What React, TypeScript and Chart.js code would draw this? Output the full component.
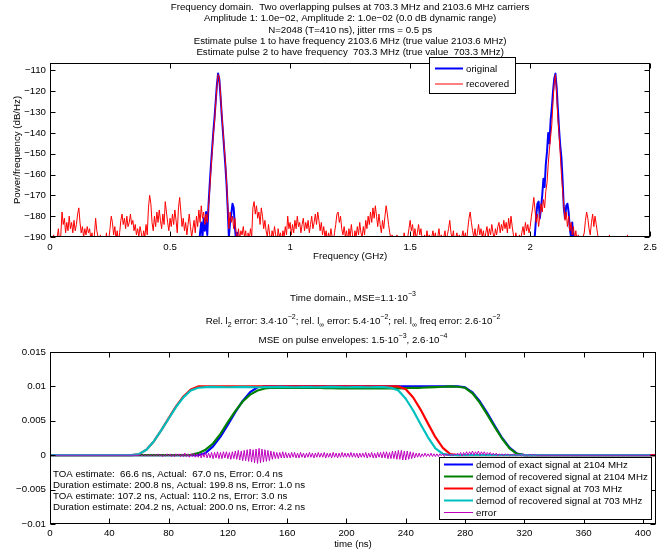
import React, { useEffect, useRef } from 'react';
import { Chart, registerables } from 'chart.js';
Chart.register(...registerables);

const FONT = "'Liberation Sans', Arial, Helvetica, sans-serif";
const FS = 9.7;

// ---------------- Frequency domain data ----------------
const freqStep = 0.005; // GHz between PSD samples
const recoveredPSD = [
  -195,-192,-196,-189,-194,-198,-190,-186,-193,-189,-178,-184,-181,-188,-183,-187,-180,-186,-183,-188,
  -182,-187,-184,-179,-176,-183,-188,-185,-190,-186,-189,-185,-188,-186,-191,-188,-194,-189,-181,-187,
  -190,-196,-189,-193,-199,-190,-194,-188,-195,-191,-186,-180,-183,-189,-185,-191,-187,-193,-188,-182,
  -179,-184,-181,-186,-180,-185,-183,-179,-184,-182,-187,-184,-189,-186,-190,-185,-188,-192,-187,-190,
  -184,-189,-176,-170,-174,-183,-187,-180,-185,-178,-183,-177,-182,-186,-179,-184,-173,-178,-183,-187,
  -181,-185,-179,-184,-177,-182,-188,-176,-171,-178,-185,-181,-187,-183,-189,-184,-179,-185,-190,-186,
  -182,-188,-180,-185,-177,-183,-175,-181,-178,-184,-179,-183,-176,-168,-158,-150,-141,-135,-126,-118,
  -112,-113,-121,-130,-138,-146,-153,-163,-174,-186,-178,-183,-180,-186,-181,-188,-192,-186,-191,-187,
  -189,-185,-190,-187,-194,-188,-191,-186,-190,-176,-173,-179,-175,-181,-178,-184,-176,-180,-186,-182,
  -187,-190,-184,-189,-192,-187,-190,-185,-189,-194,-186,-190,-188,-193,-187,-190,-185,-189,-180,-186,
  -183,-189,-184,-188,-182,-186,-180,-185,-183,-188,-184,-181,-187,-183,-186,-182,-188,-184,-180,-186,
  -183,-179,-184,-178,-182,-187,-183,-189,-185,-190,-187,-192,-188,-191,-186,-190,-193,-188,-184,-179,
  -178,-183,-180,-186,-189,-185,-190,-187,-192,-186,-190,-184,-189,-193,-187,-190,-185,-189,-183,-188,
  -190,-185,-189,-182,-186,-180,-184,-178,-183,-176,-181,-175,-180,-185,-179,-184,-188,-182,-186,-180,
  -175,-179,-184,-188,-191,-189,-194,-190,-192,-189,-193,-190,-195,-190,-192,-188,-191,-196,-190,-186,
  -182,-187,-184,-190,-186,-191,-188,-184,-189,-186,-191,-194,-189,-192,-187,-191,-189,-195,-190,-187,
  -191,-188,-193,-190,-186,-191,-189,-194,-190,-187,-192,-189,-186,-182,-188,-191,-187,-193,-190,-188,
  -192,-189,-194,-190,-187,-191,-188,-193,-186,-181,-178,-183,-187,-190,-186,-191,-188,-184,-189,-186,
  -190,-187,-192,-188,-185,-190,-186,-189,-184,-188,-191,-186,-189,-185,-183,-188,-184,-187,-182,-186,
  -183,-188,-181,-186,-180,-185,-189,-192,-188,-191,-194,-189,-192,-188,-185,-189,-183,-187,-184,-188,
  -185,-180,-176,-171,-177,-183,-179,-185,-180,-174,-178,-172,-176,-168,-164,-155,-148,-142,-136,-125,
  -116,-112,-121,-133,-140,-150,-160,-168,-175,-182,-178,-185,-180,-187,-183,-189,-185,-191,-187,-192,
  -189,-194,-190,-195,-190,-188,-182,-178,-181,-186,-189,-183,-179,-185,-180,-184,-188,-192,-200,-200,
  -200,-200,-200,-200,-200,-193,-189,-194,-200,-200,-200,-200,-200,-200,-200,-200,-200,-200,-200,-200,
  -200,-189,-195,-200,-200,-200,-200,-200,-200,-200,-200,-200,-200,-200,-200,-200,-200,-200,-200,-200,
  -200,
];
const peak1Start = 0.6;
const originalPeak1 = [
  -200,-200,-196,-192,-195,-188,-183,-190,-181,-187,-178,-189,-175,-165,-156,-148,-140,-133,-125,-117,
  -111.5,-114,-122,-131,-139,-147,-155,-164,-176,-190,-183,-179,-174,-176,-185,-192,-188,-196,-200,-200,
  -200,
];
const peak2Start = 2.0;
const originalPeak2 = [
  -200,-198,-193,-195,-188,-180,-174,-173,-181,-176,-170,-162,-166,-155,-149,-140,-145,-134,-128,-120,
  -114,-111.5,-118,-128,-138,-146,-152,-163,-176,-181,-175,-174,-178,-186,-190,-183,-192,-196,-200,-200,
  -200,
];
const freqTicks = [0, 0.5, 1, 1.5, 2, 2.5];
const freqTickLabels = ['0', '0.5', '1', '1.5', '2', '2.5'];
const psdTicks = [-190, -180, -170, -160, -150, -140, -130, -120, -110];
const psdTickLabels = ['\u2212190', '\u2212180', '\u2212170', '\u2212160', '\u2212150', '\u2212140', '\u2212130', '\u2212120', '\u2212110'];
const freqTitleLines = [
  'Frequency domain.  Two overlapping pulses at 703.3 MHz and 2103.6 MHz carriers',
  'Amplitude 1: 1.0e\u221202, Amplitude 2: 1.0e\u221202 (0.0 dB dynamic range)',
  'N=2048 (T=410 ns), jitter rms = 0.5 ps',
  'Estimate pulse 1 to have frequency 2103.6 MHz (true value 2103.6 MHz)',
  'Estimate pulse 2 to have frequency  703.3 MHz (true value  703.3 MHz)',
];
const freqLegend = ['original', 'recovered'];

// ---------------- Time domain data ----------------
const timeStep = 5; // ns
const exact2104 = [
  0,0,0,0,0,0,0,0,0,0,0,0,0,0,0,0,0,0,0,0,0,
  0.00033,0.00128,0.0027,0.00445,0.00626,0.0079,0.00917,0.00988,
  0.01,0.01,0.01,0.01,0.01,0.01,0.01,0.01,0.01,0.01,0.01,0.01,0.01,0.01,0.01,0.01,0.01,0.01,0.01,0.01,0.01,0.01,0.01,0.01,0.01,0.01,0.01,
  0.00987,0.00913,0.00781,0.00611,0.00426,0.0025,0.00109,0.00022,
  0,0,0,0,0,0,0,0,0,0,0,0,0,0,0,0,0,0,0,
];
const recovered2104 = [
  0,0,0,0,0,0,0,0,0,0,0,0,0,0,0,0,0,0,0,
  0.00005,0.0003,0.0008,0.0017,0.0031,0.0048,0.0064,0.0078,0.0088,0.0094,0.0097,
  0.0098,0.0098,0.0098,0.0098,0.0098,0.0098,0.0098,0.00975,0.00975,0.0097,0.0097,0.0097,0.0097,0.0097,0.0097,0.0097,0.0097,0.00972,0.00975,0.0098,0.0098,0.00985,0.0099,0.00995,0.01,0.00995,
  0.0098,0.009,0.0076,0.0059,0.0041,0.0024,0.001,0.0002,
  0,0,0,0,0,0,0,0,0,0,0,0,0,0,0,0,0,0,0,
];
const exact703 = [
  0,0,0,0,0,0,0,0,0,0,0,0,
  0.00011,0.0008,0.002,0.0036,0.00536,0.0071,0.00854,0.00955,0.00999,
  0.01,0.01,0.01,0.01,0.01,0.01,0.01,0.01,0.01,0.01,0.01,0.01,0.01,0.01,0.01,0.01,0.01,0.01,0.01,0.01,0.01,0.01,0.01,0.01,0.01,0.01,0.01,
  0.00958,0.00838,0.00663,0.00459,0.00262,0.00105,0.00017,
  0,0,0,0,0,0,0,0,0,0,0,0,0,0,0,0,0,0,0,0,0,0,0,0,0,0,0,0,
];
const recovered703 = [
  0,0,0,0,0,0,0,0,0,0,0,0,
  0.00015,0.0008,0.002,0.0036,0.0053,0.007,0.0084,0.0094,0.0098,
  0.0099,0.00992,0.0099,0.00988,0.0099,0.00992,0.0099,0.00988,0.0099,0.0099,0.00992,0.0099,0.00988,0.0099,0.0099,0.00988,0.0099,0.00992,0.0099,0.00988,0.0099,0.0099,0.00988,0.0099,0.0099,0.0098,
  0.0094,0.0082,0.0065,0.0045,0.0026,0.001,0.0002,
  0,0,0,0,0,0,0,0,0,0,0,0,0,0,0,0,0,0,0,0,0,0,0,0,0,0,0,0,
];
const errStart = 60; // ns
const errStep = 1; // ns
const errorE4 = [ // error in units of 1e-4
  0,1,-1,1,-1,1,-1,1,-1,1,-1,1,-1,2,-1,1,-2,1,-1,2,
  -1,2,-2,1,-2,2,-1,2,-2,2,-2,3,-2,2,-3,2,-2,3,-3,2,
  -3,3,-4,3,-3,4,-4,3,-4,4,-5,4,-4,5,-5,4,-5,5,-4,5,
  -5,4,-6,5,-5,6,-6,7,-7,6,-8,7,-8,8,-9,9,-10,8,-11,9,
  -12,10,-11,9,-10,8,-9,7,-8,6,-6,5,-5,4,-5,4,-4,5,-4,4,
  -4,3,-4,4,-3,4,-4,3,-4,4,-3,3,-4,3,-3,4,-3,3,-4,3,
  -3,4,-3,3,-3,4,-4,3,-3,3,-4,4,-3,3,-4,3,-3,4,-3,3,
  -3,3,-3,4,-3,3,-3,3,-4,3,-3,3,-3,4,-4,3,-3,4,-4,3,
  -4,4,-3,4,-4,5,-4,5,-5,4,-5,6,-5,6,-6,7,-6,7,-7,6,
  -7,6,-6,5,-5,4,-4,3,-3,3,-3,2,-2,3,-2,2,-2,3,-2,2,
  -2,2,-2,2,-1,2,-2,2,-1,2,-1,2,-1,2,0,3,0,4,-1,4,
  0,5,0,5,1,6,0,5,1,6,0,5,1,5,0,4,1,4,0,3,
  0,3,-1,2,0,2,-1,2,0,2,-1,1,0,2,-1,1,0,1,-1,1,
  0,1,-1,1,0,1,0,1,0,0,0,
];
const timeMax = 408.8;
const timeTicks = [0, 40, 80, 120, 160, 200, 240, 280, 320, 360, 400];
const timeTickLabels = ['0', '40', '80', '120', '160', '200', '240', '280', '320', '360', '400'];
const ampTicks = [-0.01, -0.005, 0, 0.005, 0.01, 0.015];
const ampTickLabels = ['\u22120.01', '\u22120.005', '0', '0.005', '0.01', '0.015'];
const timeLegend = [
  'demod of exact signal at 2104 MHz',
  'demod of recovered signal at 2104 MHz',
  'demod of exact signal at 703 MHz',
  'demod of recovered signal at 703 MHz',
  'error',
];
const estimateLines = [
  'TOA estimate:  66.6 ns, Actual:  67.0 ns, Error: 0.4 ns',
  'Duration estimate: 200.8 ns, Actual: 199.8 ns, Error: 1.0 ns',
  'TOA estimate: 107.2 ns, Actual: 110.2 ns, Error: 3.0 ns',
  'Duration estimate: 204.2 ns, Actual: 200.0 ns, Error: 4.2 ns',
];

const C_BLUE = '#0000ff';
const C_GREEN = '#008000';
const C_RED = '#ff0000';
const C_CYAN = '#00bfbf';
const C_MAG = '#bf00bf';

type Seg = { t: string; k?: 'sup' | 'sub' };

function drawRich(ctx: CanvasRenderingContext2D, segs: Seg[], cx: number, y: number) {
  const fontFor = (s: Seg) => (s.k ? `7px ${FONT}` : `${FS}px ${FONT}`);
  let w = 0;
  for (const s of segs) { ctx.font = fontFor(s); w += ctx.measureText(s.t).width; }
  let x = cx - w / 2;
  ctx.textAlign = 'left';
  ctx.textBaseline = 'middle';
  for (const s of segs) {
    ctx.font = fontFor(s);
    const dy = s.k === 'sup' ? -4 : s.k === 'sub' ? 4 : 0;
    ctx.fillText(s.t, x, y + dy);
    x += ctx.measureText(s.t).width;
  }
}

const framePlugin = {
  id: 'matlabFrame',
  afterDatasetsDraw(chart: any) {
    const { ctx, chartArea: a, scales } = chart;
    ctx.save();
    ctx.strokeStyle = '#000';
    ctx.lineWidth = 1;
    const L = Math.round(a.left) + 0.5, R = Math.round(a.right) - 0.5;
    const T = Math.round(a.top) + 0.5, B = Math.round(a.bottom) - 0.5;
    ctx.strokeRect(L, T, R - L, B - T);
    const tl = 5;
    ctx.beginPath();
    for (const t of scales.x.ticks) {
      const px = Math.round(scales.x.getPixelForValue(t.value)) + 0.5;
      ctx.moveTo(px, B); ctx.lineTo(px, B - tl);
      ctx.moveTo(px, T); ctx.lineTo(px, T + tl);
    }
    for (const t of scales.y.ticks) {
      const py = Math.round(scales.y.getPixelForValue(t.value)) + 0.5;
      ctx.moveTo(L, py); ctx.lineTo(L + tl, py);
      ctx.moveTo(R, py); ctx.lineTo(R - tl, py);
    }
    ctx.stroke();
    ctx.restore();
  },
};

function drawLegend(ctx: CanvasRenderingContext2D, box: { x: number; y: number; w: number; h: number },
  items: { label: string; color: string; width: number }[], firstY: number, dy: number, lineX0: number, lineX1: number, textX: number) {
  ctx.save();
  ctx.fillStyle = '#fff';
  ctx.fillRect(box.x, box.y, box.w, box.h);
  ctx.strokeStyle = '#000';
  ctx.lineWidth = 1;
  ctx.strokeRect(box.x + 0.5, box.y + 0.5, box.w, box.h);
  ctx.font = `${FS}px ${FONT}`;
  ctx.textAlign = 'left';
  ctx.textBaseline = 'middle';
  items.forEach((it, i) => {
    const y = firstY + i * dy;
    ctx.strokeStyle = it.color;
    ctx.lineWidth = it.width;
    ctx.beginPath();
    ctx.moveTo(lineX0, y);
    ctx.lineTo(lineX1, y);
    ctx.stroke();
    ctx.fillStyle = '#000';
    ctx.fillText(it.label, textX, y + 0.5);
  });
  ctx.restore();
}

const axisFont = { family: FONT, size: FS };

export default function App() {
  const topRef = useRef<HTMLCanvasElement>(null);
  const botRef = useRef<HTMLCanvasElement>(null);

  useEffect(() => {
    document.body.style.margin = '0';
    const topData = recoveredPSD.map((v, i) => ({ x: i * freqStep, y: v }));
    const origData = [
      ...originalPeak1.map((v, i) => ({ x: peak1Start + i * freqStep, y: v })),
      { x: 1.4, y: null as any },
      ...originalPeak2.map((v, i) => ({ x: peak2Start + i * freqStep, y: v })),
    ];

    const topOverlay = {
      id: 'topOverlay',
      afterDraw(chart: any) {
        const ctx = chart.ctx as CanvasRenderingContext2D;
        ctx.save();
        ctx.fillStyle = '#000';
        ctx.font = `${FS}px ${FONT}`;
        ctx.textAlign = 'center';
        ctx.textBaseline = 'middle';
        const cx = (chart.chartArea.left + chart.chartArea.right) / 2;
        freqTitleLines.forEach((l, i) => ctx.fillText(l, cx, 7.5 + i * 11.3));
        ctx.restore();
        drawLegend(ctx, { x: 429, y: 57, w: 86, h: 36 }, [
          { label: freqLegend[0], color: C_BLUE, width: 2 },
          { label: freqLegend[1], color: C_RED, width: 1 },
        ], 68.5, 15.5, 435, 463, 466);
      },
    };

    const topChart = new Chart(topRef.current!, {
      type: 'line',
      data: {
        datasets: [
          { data: origData as any, borderColor: C_BLUE, borderWidth: 2, pointRadius: 0, spanGaps: false, order: 1 },
          { data: topData as any, borderColor: C_RED, borderWidth: 1, pointRadius: 0, order: 0 },
        ],
      },
      options: {
        animation: false,
        responsive: false,
        devicePixelRatio: 1,
        events: [],
        layout: { padding: { left: 0, right: 6, top: 63, bottom: 0 } },
        plugins: { legend: { display: false }, tooltip: { enabled: false } },
        elements: { line: { tension: 0, borderJoinStyle: 'round' } },
        scales: {
          x: {
            type: 'linear', min: 0, max: 2.5,
            grid: { display: false, drawTicks: false },
            border: { display: false },
            afterBuildTicks: (s: any) => { s.ticks = freqTicks.map((v) => ({ value: v })); },
            afterFit: (s: any) => { s.height = 33; },
            ticks: { font: axisFont, color: '#000', padding: 5, maxRotation: 0, autoSkip: false,
              callback: (v: any) => freqTickLabels[freqTicks.indexOf(Number(v))] ?? '' },
            title: { display: true, text: 'Frequency (GHz)', font: axisFont, color: '#000', padding: { top: 0, bottom: 8 } },
          },
          y: {
            type: 'linear', min: -190, max: -106.4,
            grid: { display: false, drawTicks: false },
            border: { display: false },
            afterBuildTicks: (s: any) => { s.ticks = psdTicks.map((v) => ({ value: v })); },
            afterFit: (s: any) => { s.width = 50; },
            ticks: { font: axisFont, color: '#000', padding: 4, autoSkip: false,
              callback: (v: any) => psdTickLabels[psdTicks.indexOf(Number(v))] ?? '' },
            title: { display: true, text: 'Power/frequency (dB/Hz)', font: axisFont, color: '#000', padding: { top: 11.5, bottom: 0 } },
          },
        },
      },
      plugins: [framePlugin, topOverlay],
    });

    const tData = (arr: number[]) => arr.map((v, i) => ({ x: i * timeStep, y: v }));
    const errData = [
      { x: 0, y: 0 },
      ...errorE4.map((v, i) => ({ x: errStart + i * errStep, y: v * 1e-4 })),
      { x: 410, y: 0 },
    ];

    const botOverlay = {
      id: 'botOverlay',
      afterDraw(chart: any) {
        const ctx = chart.ctx as CanvasRenderingContext2D;
        const cx = (chart.chartArea.left + chart.chartArea.right) / 2;
        ctx.save();
        ctx.fillStyle = '#000';
        drawRich(ctx, [{ t: 'Time domain., MSE=1.1\u00b710' }, { t: '\u22123', k: 'sup' }], cx, 28);
        drawRich(ctx, [
          { t: 'Rel. l' }, { t: '2', k: 'sub' }, { t: ' error: 3.4\u00b710' }, { t: '\u22122', k: 'sup' },
          { t: '; rel. l' }, { t: '\u221e', k: 'sub' }, { t: ' error: 5.4\u00b710' }, { t: '\u22122', k: 'sup' },
          { t: '; rel. l' }, { t: '\u221e', k: 'sub' }, { t: ' freq error: 2.6\u00b710' }, { t: '\u22122', k: 'sup' },
        ], cx, 51);
        drawRich(ctx, [
          { t: 'MSE on pulse envelopes: 1.5\u00b710' }, { t: '\u22123', k: 'sup' },
          { t: ', 2.6\u00b710' }, { t: '\u22124', k: 'sup' },
        ], cx, 70);
        ctx.font = `${FS}px ${FONT}`;
        ctx.textAlign = 'left';
        ctx.textBaseline = 'middle';
        estimateLines.forEach((l, i) => ctx.fillText(l, 53, 204 + i * 11));
        ctx.restore();
        drawLegend(ctx, { x: 439, y: 187, w: 212, h: 62 }, [
          { label: timeLegend[0], color: C_BLUE, width: 2 },
          { label: timeLegend[1], color: C_GREEN, width: 2 },
          { label: timeLegend[2], color: C_RED, width: 2 },
          { label: timeLegend[3], color: C_CYAN, width: 2 },
          { label: timeLegend[4], color: C_MAG, width: 1 },
        ], 194.5, 12, 444, 473, 476);
      },
    };

    const botChart = new Chart(botRef.current!, {
      type: 'line',
      data: {
        datasets: [
          { data: tData(exact2104) as any, borderColor: C_BLUE, borderWidth: 2.2, pointRadius: 0, order: 4 },
          { data: tData(recovered2104) as any, borderColor: C_GREEN, borderWidth: 2.2, pointRadius: 0, order: 3 },
          { data: tData(exact703) as any, borderColor: C_RED, borderWidth: 2.2, pointRadius: 0, order: 2 },
          { data: tData(recovered703) as any, borderColor: C_CYAN, borderWidth: 2.2, pointRadius: 0, order: 1 },
          { data: errData as any, borderColor: C_MAG, borderWidth: 1, pointRadius: 0, order: 0 },
        ],
      },
      options: {
        animation: false,
        responsive: false,
        devicePixelRatio: 1,
        events: [],
        layout: { padding: { left: 0, right: 6, top: 82, bottom: 0 } },
        plugins: { legend: { display: false }, tooltip: { enabled: false } },
        elements: { line: { tension: 0, borderJoinStyle: 'round' } },
        scales: {
          x: {
            type: 'linear', min: 0, max: timeMax,
            grid: { display: false, drawTicks: false },
            border: { display: false },
            afterBuildTicks: (s: any) => { s.ticks = timeTicks.map((v) => ({ value: v })); },
            afterFit: (s: any) => { s.height = 28; },
            ticks: { font: axisFont, color: '#000', padding: 4, maxRotation: 0, autoSkip: false,
              callback: (v: any) => timeTickLabels[timeTicks.indexOf(Number(v))] ?? '' },
            title: { display: true, text: 'time (ns)', font: axisFont, color: '#000', padding: { top: 0, bottom: 2 } },
          },
          y: {
            type: 'linear', min: -0.01, max: 0.015,
            grid: { display: false, drawTicks: false },
            border: { display: false },
            afterBuildTicks: (s: any) => { s.ticks = ampTicks.map((v) => ({ value: v })); },
            afterFit: (s: any) => { s.width = 50; },
            ticks: { font: axisFont, color: '#000', padding: 4, autoSkip: false,
              callback: (v: any) => {
                const idx = ampTicks.findIndex((t) => Math.abs(t - Number(v)) < 1e-9);
                return idx >= 0 ? ampTickLabels[idx] : '';
              } },
          },
        },
      },
      plugins: [framePlugin, botOverlay],
    });

    return () => { topChart.destroy(); botChart.destroy(); };
  }, []);

  return (
    <div style={{ position: 'fixed', left: 0, top: 0, width: 662, height: 552, background: '#fff' }}>
      <canvas ref={topRef} width={662} height={270} style={{ position: 'absolute', left: 0, top: 0, width: 662, height: 270 }} />
      <canvas ref={botRef} width={662} height={282} style={{ position: 'absolute', left: 0, top: 270, width: 662, height: 282 }} />
    </div>
  );
}
